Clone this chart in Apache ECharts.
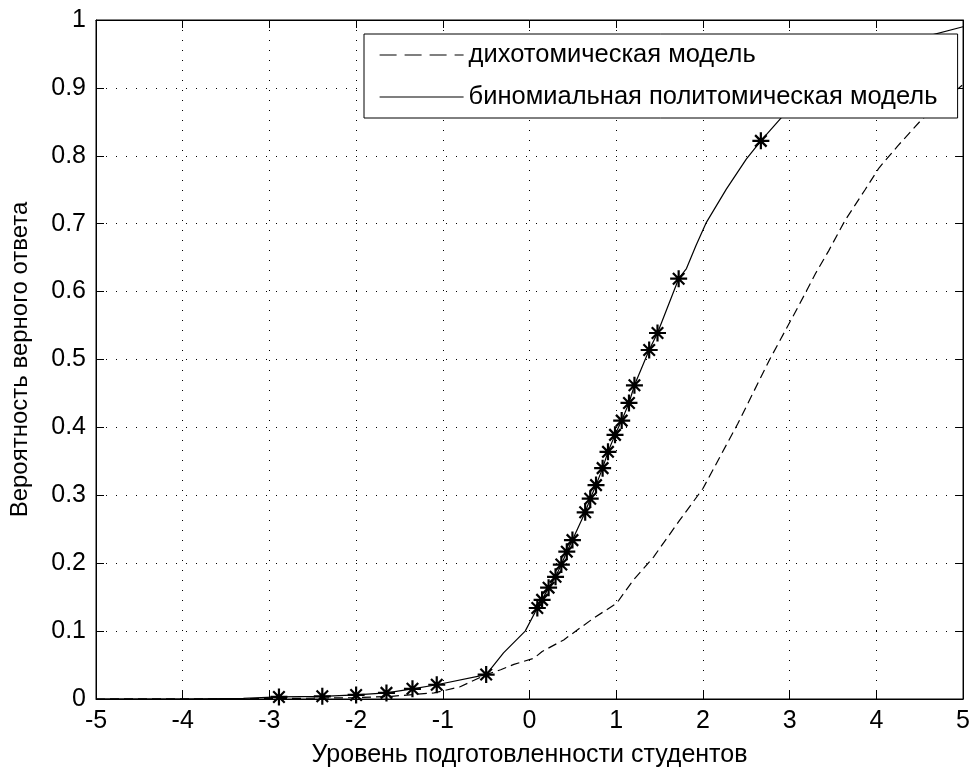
<!DOCTYPE html>
<html>
<head>
<meta charset="utf-8">
<script src="https://cdn.jsdelivr.net/npm/echarts@6/dist/echarts.min.js"></script>
<style>
html,body{margin:0;padding:0;background:#fff;}
#chart{width:973px;height:773px;}
</style>
</head>
<body>
<div id="chart"></div>
<script>
// ---- data ----
const xRange = [-5, 5];
const yRange = [0, 1];
const xTitle = 'Уровень подготовленности студентов';
const yTitle = 'Вероятность верного ответа';
const seriesNames = ['дихотомическая модель', 'биномиальная политомическая модель'];

// dichotomous model (dashed)
const dashX = [-5, -3, -2, -1.59, -1.1, -0.8, -0.5, -0.333, -0.18, 0.05, 0.146, 0.394, 0.738, 1.005, 1.196, 1.43, 1.73, 2.0, 2.4, 2.77, 3.108, 3.30, 3.45, 3.64, 3.87, 4.03, 4.25, 4.52, 5];
const dashY = [0, 0.0005, 0.002, 0.004, 0.009, 0.018, 0.036, 0.043, 0.051, 0.06, 0.07, 0.087, 0.119, 0.141, 0.175, 0.209, 0.263, 0.31, 0.405, 0.5, 0.58, 0.627, 0.66, 0.705, 0.75, 0.782, 0.815, 0.853, 0.905];

// binomial polytomous model (solid)
const solidX = [-5, -4, -3.3, -2.89, -2.39, -2.0, -1.65, -1.35, -1.07, -0.5, -0.3, -0.05, 0.09, 0.145, 0.22, 0.30, 0.367, 0.43, 0.495, 0.642, 0.70, 0.767, 0.843, 0.905, 0.986, 1.063, 1.147, 1.21, 1.38, 1.476, 1.72, 1.81, 1.92, 2.04, 2.27, 2.5, 2.668, 2.91, 3.3, 3.8, 4.4, 5];
const solidY = [0, 0, 0.001, 0.003, 0.004, 0.006, 0.009, 0.015, 0.021, 0.036, 0.068, 0.1, 0.134, 0.146, 0.164, 0.18, 0.198, 0.217, 0.234, 0.275, 0.295, 0.315, 0.34, 0.364, 0.389, 0.41, 0.436, 0.462, 0.514, 0.539, 0.619, 0.634, 0.668, 0.702, 0.751, 0.795, 0.822, 0.857, 0.9, 0.94, 0.97, 0.99];

// star markers on the solid curve
const starX = [-2.89, -2.39, -2.0, -1.65, -1.35, -1.07, -0.5, 0.09, 0.145, 0.22, 0.30, 0.367, 0.43, 0.495, 0.642, 0.70, 0.767, 0.843, 0.905, 0.986, 1.063, 1.147, 1.21, 1.38, 1.476, 1.72, 2.668];
const starY = [0.003, 0.004, 0.006, 0.009, 0.015, 0.021, 0.036, 0.134, 0.146, 0.164, 0.18, 0.198, 0.217, 0.234, 0.275, 0.295, 0.315, 0.34, 0.364, 0.389, 0.41, 0.436, 0.462, 0.514, 0.539, 0.619, 0.822];

// ---- chart ----
const zip = (a, b) => a.map((v, i) => [v, b[i]]);
const FONT = "'Liberation Sans', Arial, sans-serif";
const FS = 25;
const star = 'path://M8,0L8,16M0,8L16,8M2.6,2.6L13.4,13.4M2.6,13.4L13.4,2.6';
const hiddenSym = {color: 'rgba(0,0,0,0)', borderWidth: 0, opacity: 0};

const chart = echarts.init(document.getElementById('chart'), null, {renderer: 'canvas'});

const baseAxis = {
  type: 'value',
  interval: 1,
  axisLine: {show: true, onZero: false, lineStyle: {color: '#000', width: 1}},
  axisTick: {show: true, inside: true, length: 8, lineStyle: {color: '#000'}},
};

chart.setOption({
  backgroundColor: '#fff',
  animation: false,
  textStyle: {fontFamily: FONT},
  grid: {left: 95, right: 8, top: 20, bottom: 70, show: true, borderColor: '#000', borderWidth: 1, backgroundColor: '#fff'},
  legend: {
    show: true,
    orient: 'vertical',
    left: 364,
    top: 34,
    data: [
      {name: seriesNames[0], lineStyle: {type: [17, 8], width: 1.2}, itemStyle: hiddenSym},
      {name: seriesNames[1], lineStyle: {width: 1.2}, itemStyle: hiddenSym}
    ],
    backgroundColor: '#fff',
    borderColor: '#000',
    borderWidth: 1,
    padding: [6, 15, 6, 15],
    itemWidth: 84,
    itemHeight: 14,
    itemGap: 12,
    textStyle: {fontFamily: FONT, fontSize: 25.5, color: '#000', lineHeight: 30, width: 474, overflow: 'none'},
    selectedMode: false
  },
  xAxis: [
    Object.assign({}, baseAxis, {
      min: xRange[0], max: xRange[1], position: 'bottom',
      axisLabel: {color: '#000', fontSize: FS, fontFamily: FONT, margin: 10},
      splitLine: {show: true, lineStyle: {color: '#000', type: [1, 9], width: 1}},
      name: xTitle, nameLocation: 'middle', nameGap: 44,
      nameTextStyle: {color: '#000', fontSize: FS, fontFamily: FONT}
    }),
    Object.assign({}, baseAxis, {
      min: xRange[0], max: xRange[1], position: 'top',
      axisLabel: {show: false}, splitLine: {show: false}
    })
  ],
  yAxis: [
    Object.assign({}, baseAxis, {
      min: yRange[0], max: yRange[1], interval: 0.1, position: 'left',
      axisLabel: {color: '#000', fontSize: FS, fontFamily: FONT, margin: 10},
      splitLine: {show: true, lineStyle: {color: '#000', type: [1, 9], width: 1}},
      name: yTitle, nameLocation: 'middle', nameGap: 64,
      nameTextStyle: {color: '#000', fontSize: 24, fontFamily: FONT}
    }),
    Object.assign({}, baseAxis, {
      min: yRange[0], max: yRange[1], interval: 0.1, position: 'right',
      axisLabel: {show: false}, splitLine: {show: false}
    })
  ],
  series: [
    {
      name: seriesNames[0], type: 'line', data: zip(dashX, dashY),
      symbol: 'none', smooth: false,
      lineStyle: {color: '#000', width: 1.2, type: [9, 5]},
      itemStyle: {color: '#000'}, z: 3
    },
    {
      name: seriesNames[1], type: 'line', data: zip(solidX, solidY),
      symbol: 'none', smooth: false,
      lineStyle: {color: '#000', width: 1.2, type: 'solid'},
      itemStyle: {color: '#000'}, z: 3
    },
    {
      name: 'stars', type: 'scatter', data: zip(starX, starY),
      symbol: star, symbolSize: 17,
      itemStyle: {color: 'rgba(0,0,0,0)', borderColor: '#000', borderWidth: 2.2, opacity: 1},
      z: 4
    }
  ]
});
</script>
</body>
</html>
